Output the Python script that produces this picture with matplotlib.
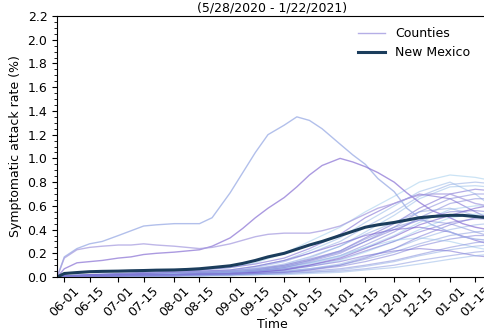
import numpy as np
import pandas as pd
import matplotlib
matplotlib.use("Agg")
import matplotlib.pyplot as plt
import matplotlib.dates as mdates
from matplotlib.colors import LinearSegmentedColormap

# weekly sample dates for the state curve and the standout counties
dates_weekly = pd.to_datetime([
    "2020-05-28", "2020-06-01", "2020-06-08", "2020-06-15", "2020-06-22",
    "2020-07-01", "2020-07-08", "2020-07-15", "2020-07-22", "2020-08-01",
    "2020-08-08", "2020-08-15", "2020-08-22", "2020-09-01", "2020-09-08",
    "2020-09-15", "2020-09-22", "2020-10-01", "2020-10-08", "2020-10-15",
    "2020-10-22", "2020-11-01", "2020-11-08", "2020-11-15", "2020-11-22",
    "2020-12-01", "2020-12-08", "2020-12-15", "2020-12-22", "2021-01-01",
    "2021-01-08", "2021-01-15", "2021-01-22"])

# twice-monthly sample dates for the remaining counties
dates_half = pd.to_datetime([
    "2020-05-28", "2020-06-01", "2020-06-15", "2020-07-01", "2020-07-15",
    "2020-08-01", "2020-08-15", "2020-09-01", "2020-09-15", "2020-10-01",
    "2020-10-15", "2020-11-01", "2020-11-15", "2020-12-01", "2020-12-15",
    "2021-01-01", "2021-01-15", "2021-01-22"])

new_mexico = [0.0, 0.03, 0.038, 0.045, 0.048, 0.05, 0.053, 0.055, 0.058, 0.06,
              0.064, 0.07, 0.08, 0.095, 0.115, 0.14, 0.17, 0.2, 0.235, 0.27,
              0.3, 0.35, 0.385, 0.42, 0.44, 0.46, 0.48, 0.5, 0.51, 0.52,
              0.52, 0.51, 0.5]

county_a = [0.0, 0.17, 0.24, 0.28, 0.3, 0.35, 0.39, 0.43, 0.44, 0.45,
            0.45, 0.45, 0.5, 0.71, 0.88, 1.05, 1.2, 1.28, 1.35, 1.32,
            1.25, 1.12, 1.03, 0.95, 0.83, 0.72, 0.58, 0.5, 0.44, 0.38,
            0.34, 0.32, 0.31]
county_b = [0.0, 0.07, 0.12, 0.13, 0.14, 0.16, 0.17, 0.19, 0.2, 0.21,
            0.22, 0.23, 0.26, 0.33, 0.41, 0.5, 0.58, 0.67, 0.76, 0.86,
            0.94, 1.0, 0.97, 0.93, 0.88, 0.8, 0.71, 0.63, 0.56, 0.5,
            0.45, 0.42, 0.4]
county_c = [0.0, 0.16, 0.23, 0.25, 0.26, 0.27, 0.27, 0.28, 0.27, 0.26,
            0.25, 0.24, 0.25, 0.28, 0.31, 0.34, 0.36, 0.37, 0.37, 0.37,
            0.39, 0.43, 0.48, 0.53, 0.58, 0.62, 0.66, 0.69, 0.7, 0.7,
            0.66, 0.62, 0.6]

other_counties = [
    [0, .01, .02, .03, .04, .05, .06, .08, .12, .2, .3, .42, .55, .68, .8, .86, .84, .82],
    [0, .01, .02, .02, .03, .03, .04, .05, .08, .13, .2, .3, .42, .55, .68, .78, .8, .79],
    [0, .0, .01, .02, .02, .03, .03, .04, .06, .1, .16, .26, .38, .52, .66, .76, .77, .76],
    [0, .01, .01, .02, .03, .03, .04, .05, .07, .1, .15, .22, .33, .45, .58, .7, .74, .73],
    [0, .01, .02, .03, .03, .04, .05, .06, .09, .14, .22, .33, .46, .6, .72, .8, .7, .62],
    [0, .0, .01, .01, .02, .02, .03, .04, .05, .08, .12, .18, .27, .38, .5, .62, .66, .66],
    [0, .01, .02, .03, .04, .05, .06, .08, .11, .16, .24, .36, .5, .62, .7, .66, .55, .5],
    [0, .0, .01, .01, .02, .02, .03, .03, .05, .07, .11, .17, .25, .35, .46, .57, .6, .6],
    [0, .01, .01, .02, .02, .03, .03, .04, .06, .09, .14, .21, .3, .4, .48, .55, .56, .55],
    [0, .0, .01, .02, .02, .03, .04, .05, .07, .11, .17, .26, .36, .46, .55, .58, .52, .48],
    [0, .0, .0, .01, .01, .02, .02, .03, .04, .06, .09, .14, .21, .3, .4, .5, .53, .53],
    [0, .01, .01, .02, .02, .03, .03, .04, .05, .07, .1, .15, .22, .3, .38, .46, .49, .49],
    [0, .0, .01, .01, .02, .02, .03, .04, .06, .09, .14, .22, .32, .42, .48, .45, .38, .35],
    [0, .0, .0, .01, .01, .01, .02, .02, .03, .05, .07, .11, .17, .24, .32, .4, .44, .45],
    [0, .01, .02, .02, .03, .04, .05, .06, .09, .14, .2, .28, .35, .4, .42, .38, .31, .28],
    [0, .0, .01, .01, .01, .02, .02, .03, .04, .05, .07, .1, .15, .21, .28, .35, .38, .39],
    [0, .0, .0, .01, .01, .01, .02, .02, .03, .04, .06, .09, .13, .19, .26, .32, .35, .35],
    [0, .01, .01, .02, .02, .03, .03, .04, .05, .08, .12, .18, .25, .31, .33, .3, .25, .23],
    [0, .0, .01, .01, .01, .02, .02, .02, .03, .04, .05, .07, .1, .14, .19, .25, .29, .3],
    [0, .0, .0, .0, .01, .01, .01, .02, .02, .03, .04, .06, .09, .13, .18, .23, .26, .27],
    [0, .0, .01, .01, .02, .02, .02, .03, .04, .06, .09, .13, .18, .22, .24, .22, .18, .17],
    [0, .0, .0, .01, .01, .01, .01, .02, .02, .03, .04, .05, .07, .1, .14, .18, .21, .22],
    [0, .0, .0, .0, .0, .01, .01, .01, .02, .02, .03, .04, .06, .08, .11, .15, .18, .19],
    [0, .01, .01, .02, .02, .02, .03, .03, .04, .06, .1, .16, .24, .34, .44, .52, .58, .6],
    [0, .0, .01, .01, .02, .02, .03, .03, .05, .08, .13, .2, .3, .42, .55, .66, .7, .7],
    [0, .0, .0, .01, .01, .01, .02, .02, .03, .04, .06, .1, .16, .24, .34, .44, .5, .52],
]

# position of each county along the blue -> purple ramp
county_shades = [0.05, 0.3, 0.15, 0.85, 0.2, 0.6, 0.9, 0.1, 0.7, 0.35, 0.0, 0.75, 0.5,
                 0.25, 0.95, 0.4, 0.65, 0.1, 0.55, 0.3, 0.8, 0.45, 0.2, 1.0, 0.6, 0.7]

county_cmap = LinearSegmentedColormap.from_list("county", ["#a3d3ef", "#6f55cc"])

fig = plt.figure(figsize=(4.84, 3.33), dpi=100)
ax = fig.add_axes([0.118, 0.168, 0.89, 0.784])

# county curves, thin and translucent
for vals, shade in zip(other_counties, county_shades):
    ax.plot(dates_half, vals, color=county_cmap(shade), lw=0.9, alpha=0.55)

ax.plot(dates_weekly, county_a, color="#9fb0e6", lw=1.0, alpha=0.8)
ax.plot(dates_weekly, county_b, color="#8f78d6", lw=1.0, alpha=0.75)
ax.plot(dates_weekly, county_c, color="#a89ee0", lw=1.0, alpha=0.75)

ax.plot(dates_weekly, new_mexico, color="#1b3d5c", lw=2.2)

# legend proxies
ax.plot([], [], color="#b5aee6", lw=1.0, label="Counties")
ax.plot([], [], color="#1b3d5c", lw=2.2, label="New Mexico")
ax.legend(loc="upper right", bbox_to_anchor=(0.985, 1.0), frameon=False, fontsize=9,
          handlelength=2.2)

ax.set_xlim(dates_half[0], dates_half[-1])
ax.set_ylim(0, 2.2)
ax.set_yticks(np.arange(0, 2.21, 0.2))
ax.yaxis.set_minor_locator(plt.MultipleLocator(0.05))
ax.xaxis.set_major_locator(mdates.DayLocator(bymonthday=[1, 15]))
ax.xaxis.set_major_formatter(mdates.DateFormatter("%m-%d"))
plt.setp(ax.get_xticklabels(), rotation=45)
ax.tick_params(labelsize=9)
ax.tick_params(axis="x", pad=2)
ax.tick_params(which="minor", length=2)

ax.set_xlabel("Time", fontsize=9, labelpad=-1)
ax.set_ylabel("Symptomatic attack rate (%)", fontsize=9)
ax.set_title("(5/28/2020 - 1/22/2021)", fontsize=9, pad=3)

fig.savefig("out.png", dpi=100)
